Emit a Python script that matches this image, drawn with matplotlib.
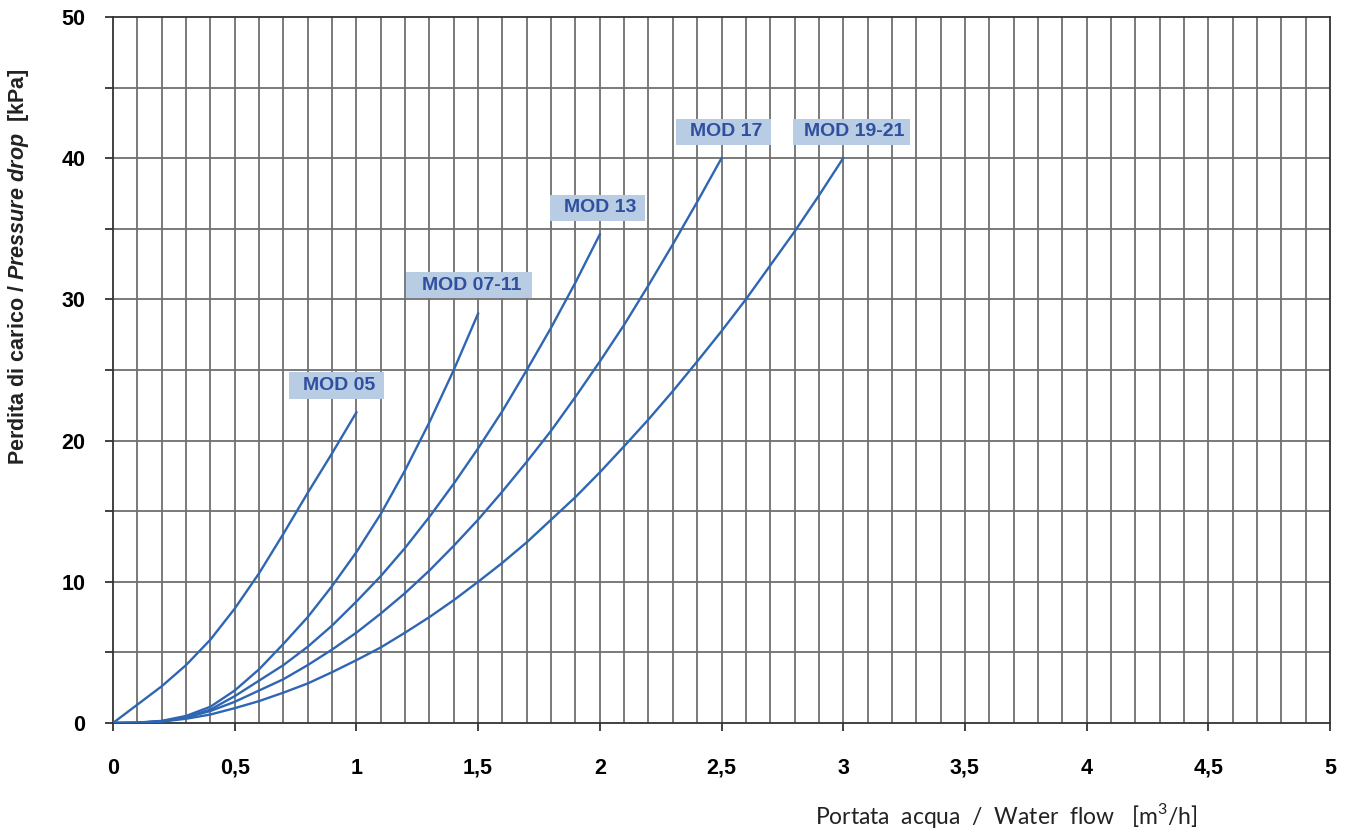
"""
perdite di carico lato acqua - pressure drop vs water flow
"""

import numpy as np
import matplotlib
matplotlib.use('Agg')
from matplotlib import pyplot as plt
from matplotlib.patches import Rectangle

# valori (passo 0,1 m3/h)
portata_05 = [0, 0.1, 0.2, 0.3, 0.4, 0.5, 0.6, 0.7, 0.8, 0.9, 1.0]
perdita_05 = [0, 1.3, 2.6, 4.1, 5.9, 8.1, 10.6, 13.4, 16.3, 19.1, 22.0]

portata_07 = [0, 0.1, 0.2, 0.3, 0.4, 0.5, 0.6, 0.7, 0.8, 0.9, 1.0, 1.1, 1.2, 1.3, 1.4, 1.5]
perdita_07 = [0, 0.03, 0.15, 0.5, 1.15, 2.3, 3.8, 5.6, 7.5, 9.7, 12.1, 14.8, 17.9, 21.3, 25.0, 29.0]

portata_13 = [0, 0.1, 0.2, 0.3, 0.4, 0.5, 0.6, 0.7, 0.8, 0.9, 1.0,
              1.1, 1.2, 1.3, 1.4, 1.5, 1.6, 1.7, 1.8, 1.9, 2.0]
perdita_13 = [0, 0.02, 0.12, 0.42, 0.95, 1.9, 3.0, 4.1, 5.4, 6.9, 8.6,
              10.4, 12.4, 14.6, 16.95, 19.45, 22.1, 25.0, 28.0, 31.2, 34.6]

portata_17 = [0, 0.1, 0.2, 0.3, 0.4, 0.5, 0.6, 0.7, 0.8, 0.9, 1.0, 1.1, 1.2,
              1.3, 1.4, 1.5, 1.6, 1.7, 1.8, 1.9, 2.0, 2.1, 2.2, 2.3, 2.4, 2.5]
perdita_17 = [0, 0.02, 0.12, 0.38, 0.85, 1.5, 2.3, 3.1, 4.1, 5.2, 6.4, 7.75, 9.2,
              10.8, 12.55, 14.4, 16.4, 18.5, 20.7, 23.1, 25.6, 28.2, 31.0, 33.9, 36.9, 40.0]

portata_19 = [0, 0.1, 0.2, 0.3, 0.4, 0.5, 0.6, 0.7, 0.8, 0.9, 1.0, 1.1, 1.2, 1.3, 1.4, 1.5,
              1.6, 1.7, 1.8, 1.9, 2.0, 2.1, 2.2, 2.3, 2.4, 2.5, 2.6, 2.7, 2.8, 2.9, 3.0]
perdita_19 = [0, 0.02, 0.1, 0.3, 0.6, 1.05, 1.55, 2.15, 2.8, 3.6, 4.45, 5.35, 6.4, 7.5, 8.7, 10.0,
              11.35, 12.8, 14.4, 16.0, 17.75, 19.6, 21.5, 23.5, 25.6, 27.75, 30.0, 32.4, 34.8, 37.35, 40.0]

modelli = ["MOD 05", "MOD 07-11", "MOD 13", "MOD 17", "MOD 19-21"]

x_ticks = [0, 0.5, 1, 1.5, 2, 2.5, 3, 3.5, 4, 4.5, 5]
x_labels = ["0", "0,5", "1", "1,5", "2", "2,5", "3", "3,5", "4", "4,5", "5"]
y_ticks = [0, 5, 10, 15, 20, 25, 30, 35, 40, 45, 50]
y_labels = ["0", "", "10", "", "20", "", "30", "", "40", "", "50"]


if __name__ == '__main__':
    plt.rcParams['mathtext.fontset'] = 'custom'
    plt.rcParams['mathtext.rm'] = 'Liberation Sans:bold'
    plt.rcParams['mathtext.it'] = 'Liberation Sans:italic:bold'
    plt.rcParams['mathtext.sf'] = 'Lato'

    font_b = ['Liberation Sans', 'DejaVu Sans']
    blu = '#2f66b3'
    griglia = '#707070'

    fig = plt.figure(figsize=(13.56, 8.34), dpi=100)
    ax = fig.add_axes([113/1356, 111/834, 1217/1356, 706/834])

    # griglia
    for xv in np.arange(1, 50) / 10:
        ax.axvline(xv, color=griglia, lw=1.3, zorder=1)
    for yv in y_ticks[1:-1]:
        ax.axhline(yv, color=griglia, lw=1.3, zorder=1)

    curve = [(portata_05, perdita_05), (portata_07, perdita_07), (portata_13, perdita_13),
             (portata_17, perdita_17), (portata_19, perdita_19)]
    for xs, ys in curve:
        ax.plot(xs, ys, color=blu, lw=1.7, zorder=3, solid_joinstyle='round')

    # etichette (centro x, centro y, larghezza box)
    etichette = [(0.917, 23.9, 0.39), (1.463, 31.0, 0.52), (1.99, 36.5, 0.39),
                 (2.508, 41.87, 0.39), (3.035, 41.87, 0.48)]
    for nome, (cx, cy, w) in zip(modelli, etichette):
        h = 1.85
        ax.add_patch(Rectangle((cx - w/2, cy - h/2), w, h, facecolor='#b8cce4',
                               edgecolor='none', zorder=4))
        ax.text(cx + 0.01, cy, nome, ha='center', va='center', family=font_b,
                fontweight='bold', fontsize=14, color='#2f4f9f', zorder=5)

    ax.set_xlim(0, 5)
    ax.set_ylim(0, 50)
    ax.set_xticks(x_ticks)
    ax.set_xticklabels(x_labels, family=font_b, fontweight='bold', fontsize=15.5)
    ax.set_yticks(y_ticks)
    ax.set_yticklabels(y_labels, family=font_b, fontweight='bold', fontsize=15.5)
    ax.tick_params(axis='x', length=6, width=1.3, color='#333333', pad=19)
    ax.tick_params(axis='y', length=6, width=1.3, color='#333333', pad=14)
    for s in ax.spines.values():
        s.set_color('#333333')
        s.set_linewidth(1.3)

    fig.text(0.014, (834 - 267) / 834, r'Perdita di carico / $Pressure\ drop$  [kPa]',
             rotation=90, ha='center', va='center', family='Liberation Sans',
             fontweight='bold', fontsize=15.5, color='#222222')
    fig.text(1006/1356, 1 - 815/834, r'Portata  acqua  /  Water  flow   [m$^\mathsf{3}$/h]',
             ha='center', va='center', family=['Lato', 'DejaVu Sans'],
             fontsize=16.5, color='#222222')

    fig.savefig('out.png', dpi=100)
